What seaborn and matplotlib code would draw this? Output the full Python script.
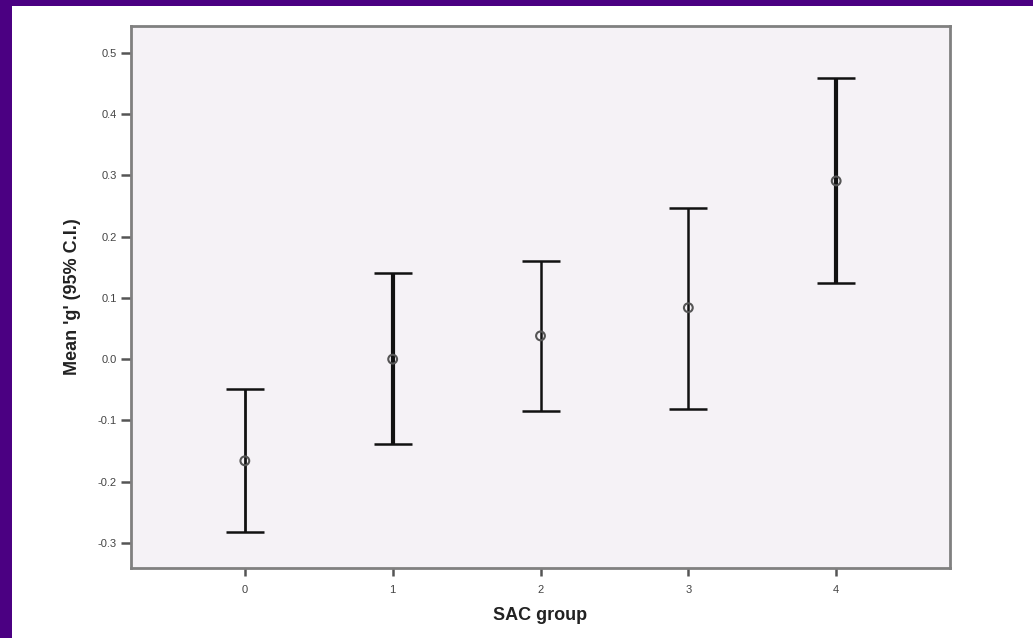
import matplotlib
matplotlib.use("Agg")
import matplotlib.pyplot as plt
import seaborn as sns
import pandas as pd
import numpy as np
from matplotlib.patches import Rectangle

groups = [0, 1, 2, 3, 4]
means = [-0.166, 0.0, 0.038, 0.084, 0.291]
upper = [-0.048, 0.141, 0.161, 0.247, 0.459]
lower = [-0.283, -0.138, -0.085, -0.081, 0.125]
yticks = [-0.3, -0.2, -0.1, 0.0, 0.1, 0.2, 0.3, 0.4, 0.5]
ytick_labels = ["-0.3", "-0.2", "-0.1", "0.0", "0.1", "0.2", "0.3", "0.4", "0.5"]
bar_widths = [2.0, 3.0, 1.8, 1.8, 3.0]

df = pd.DataFrame({"SAC group": groups, "mean": means, "lo": lower, "hi": upper})

sns.set_theme(style="white")
plt.rcParams['font.family'] = ['Liberation Sans', 'DejaVu Sans']

W, H = 1033, 638
fig = plt.figure(figsize=(W / 100, H / 100), dpi=100, facecolor="#4b0082")
fig.patches.append(Rectangle((12 / W, 0), 1 - 12 / W, (H - 6) / H,
                             transform=fig.transFigure, facecolor="white",
                             edgecolor="none", zorder=-10))
ax = fig.add_axes([131 / W, 1 - 568 / H, (950 - 131) / W, (568 - 26) / H])
ax.set_zorder(5)
ax.set_facecolor("#f5f2f6")

for i, row in df.iterrows():
    ax.errorbar(row["SAC group"], row["mean"],
                yerr=[[row["mean"] - row["lo"]], [row["hi"] - row["mean"]]],
                fmt="none", ecolor="#111111", elinewidth=bar_widths[i],
                capsize=13.5, capthick=1.8, zorder=2)

sns.scatterplot(data=df, x="SAC group", y="mean", ax=ax, marker="o", s=40,
                facecolor="none", edgecolor="#555555", linewidth=1.5, zorder=3)

ax.set_xlim(-0.77, 4.77)
ax.set_ylim(-0.341, 0.544)
ax.set_xticks(groups)
ax.set_xticklabels([str(g) for g in groups])
ax.set_yticks(yticks)
ax.set_yticklabels(ytick_labels)

for s in ax.spines.values():
    s.set_color("#808080")
    s.set_linewidth(2)
ax.tick_params(axis="y", which="both", direction="out", length=7, width=1.8,
               color="#555555", labelsize=8, labelcolor="#444444", pad=3, left=True)
ax.tick_params(axis="x", which="both", direction="out", length=6, width=1.8,
               color="#555555", labelsize=8, labelcolor="#444444", pad=6, bottom=True)

ax.set_xlabel("SAC group", fontsize=13, fontweight="bold", color="#222222", labelpad=9)
ax.set_ylabel("Mean 'g' (95% C.I.)", fontsize=13, fontweight="bold", color="#222222", labelpad=12)

fig.savefig("out.png", dpi=100, facecolor=fig.get_facecolor())
